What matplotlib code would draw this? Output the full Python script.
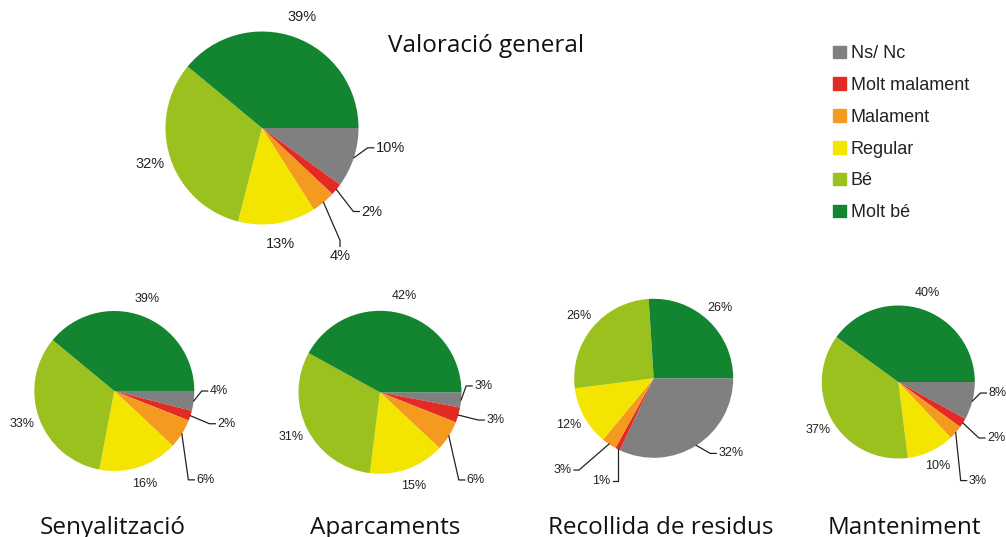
import matplotlib
matplotlib.use('Agg')
import matplotlib.pyplot as plt
import numpy as np

# categories and values (percentages)
categories = ['Ns/ Nc', 'Molt malament', 'Malament', 'Regular', 'Bé', 'Molt bé']
colors = ['#808080', '#E42A24', '#F39A1F', '#F3E500', '#9BC11E', '#138430']

general = [10, 2, 4, 13, 32, 39]
senyalitzacio = [4, 2, 6, 16, 33, 39]
aparcaments = [3, 3, 6, 15, 31, 42]
recollida = [32, 1, 3, 12, 26, 26]
manteniment = [8, 2, 3, 10, 37, 40]

titles = ['Valoració general', 'Senyalització', 'Aparcaments', 'Recollida de residus', 'Manteniment']

# layout: pie centre / radius in pixels, label size, leader lines {slice: (dx, dy, tail)}
pies = [
    dict(vals=general, c=(262, 128), r=96.5, fs=10.5,
         lead={0: (14, -10, 'r'), 1: (17, 22, 'r'), 2: (16.5, 38, 'd')}),
    dict(vals=senyalitzacio, c=(114.3, 391), r=80, fs=9,
         lead={0: (8, -10, 'r'), 1: (19, 8, 'r'), 2: (6.5, 46, 'r')}),
    dict(vals=aparcaments, c=(380, 392.3), r=81.5, fs=9,
         lead={0: (5, -14, 'r'), 1: (20, 5, 'r'), 2: (10, 44, 'r')}),
    dict(vals=recollida, c=(653.7, 378.3), r=79.5, fs=9,
         lead={0: (14, 8, 'r'), 1: (0, 32, 'l'), 2: (-30, 26, 'l')}),
    dict(vals=manteniment, c=(898.3, 382), r=76.5, fs=9,
         lead={0: (8, -8, 'r'), 1: (16, 15, 'r'), 2: (5, 48, 'r')}),
]
title_pos = [(486, 52), (112.5, 534), (385, 534), (661, 534), (904, 534)]

W, H = 1006, 537
fig = plt.figure(figsize=(W / 100, H / 100), dpi=100)
ax = fig.add_axes([0, 0, 1, 1])

lab_font = ['Liberation Sans', 'DejaVu Sans']
txt_col = '#222222'

for p in pies:
    cx, cy = p['c']
    r = p['r']
    # y axis is inverted below, so counterclock=True draws clockwise on screen
    wedges, _ = ax.pie(p['vals'], colors=colors, startangle=0, counterclock=True,
                       center=(cx, cy), radius=r, frame=True,
                       wedgeprops=dict(linewidth=0))
    for i, w in enumerate(wedges):
        mid = np.deg2rad((w.theta1 + w.theta2) / 2)
        label = f'{p["vals"][i]}%'
        if i in p['lead']:
            dx, dy, tail = p['lead'][i]
            x0, y0 = cx + r * np.cos(mid), cy + r * np.sin(mid)
            x1, y1 = x0 + dx, y0 + dy
            if tail == 'r':
                x2, y2 = x1 + 6, y1
                ax.text(x2 + 2, y2, label, ha='left', va='center', fontsize=p['fs'],
                        family=lab_font, color=txt_col)
            elif tail == 'l':
                x2, y2 = x1 - 5, y1
                ax.text(x2 - 2, y2, label, ha='right', va='center', fontsize=p['fs'],
                        family=lab_font, color=txt_col)
            else:
                x2, y2 = x1, y1 + 6
                ax.text(x2, y2 + 3, label, ha='center', va='top', fontsize=p['fs'],
                        family=lab_font, color=txt_col)
            ax.plot([x0, x1, x2], [y0, y1, y2], color='#222222', lw=0.9)
        else:
            d = 1.22 * r
            ax.text(cx + d * np.cos(mid), cy + d * np.sin(mid), label, ha='center', va='center',
                    fontsize=p['fs'], family=lab_font, color=txt_col)

for t, (x, y) in zip(titles, title_pos):
    ax.text(x, y, t, ha='center', va='baseline', fontsize=17.5,
            family=['Open Sans', 'DejaVu Sans'], color='#111111')

# legend
handles = [plt.Rectangle((0, 0), 1, 1, color=c) for c in colors]
leg = fig.legend(handles, categories, loc='upper left', bbox_to_anchor=(826 / W, 1 - 38 / H),
                 frameon=False, prop=dict(family=lab_font, size=13), handlelength=0.7,
                 handleheight=0.7, handletextpad=0.28, labelspacing=0.82, borderaxespad=0)
for txt in leg.get_texts():
    txt.set_color(txt_col)

ax.set_xlim(0, W)
ax.set_ylim(H, 0)
ax.set_aspect('equal')
ax.axis('off')

fig.savefig('out.png', dpi=100)
